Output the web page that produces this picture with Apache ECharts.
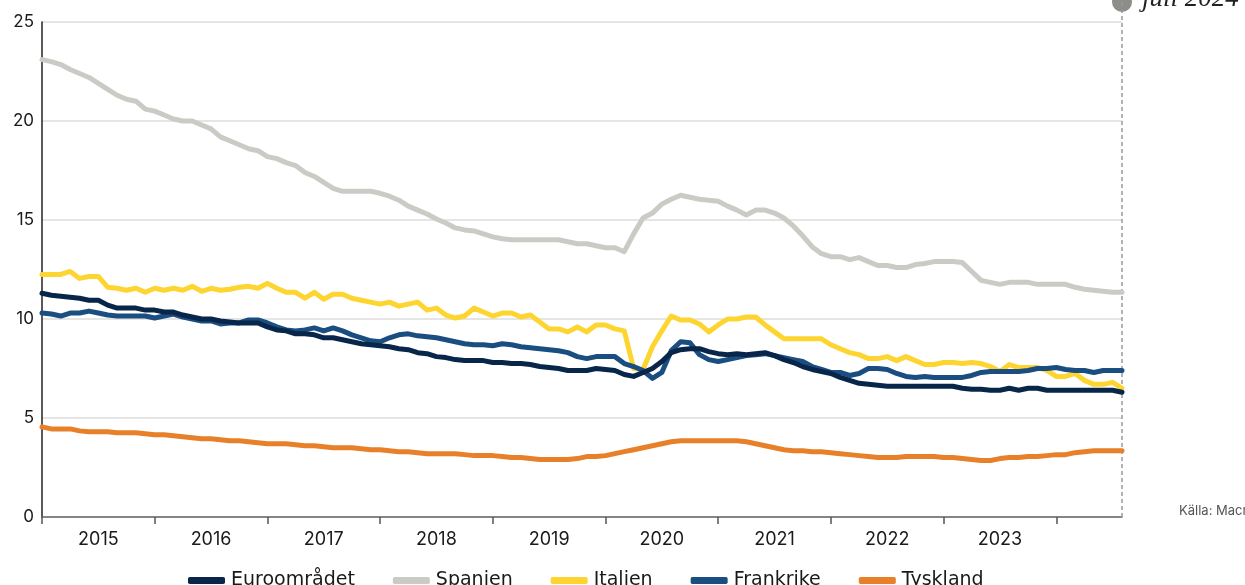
<!DOCTYPE html>
<html>
<head>
<meta charset="utf-8">
<script src="https://cdn.jsdelivr.net/npm/echarts@6/dist/echarts.min.js"></script>
<style>
  html, body { margin: 0; padding: 0; background: #fff; }
  #chart { width: 1245px; height: 585px; }
</style>
</head>
<body>
<div id="chart"></div>
<script>
// arbetslöshet, procent, månadsdata från januari 2015
var startYear = 2015;
var nMonths = 116;
var months = [];
for (var i = 0; i < nMonths; i++) {
  var y = startYear + Math.floor(i / 12);
  var m = (i % 12) + 1;
  months.push(y + '-' + (m < 10 ? '0' + m : m));
}
var lastLabelledYear = 2023;

var seriesNames = ['Euroområdet', 'Spanien', 'Italien', 'Frankrike', 'Tyskland'];

var euro = [
  11.3, 11.2, 11.15, 11.1, 11.05, 10.95, 10.95, 10.7, 10.55, 10.55, 10.55, 10.45,
  10.45, 10.35, 10.35, 10.2, 10.1, 10.0, 10.0, 9.9, 9.85, 9.8, 9.8, 9.8,
  9.6, 9.45, 9.4, 9.25, 9.25, 9.2, 9.05, 9.05, 8.95, 8.85, 8.75, 8.7,
  8.65, 8.6, 8.5, 8.45, 8.3, 8.25, 8.1, 8.05, 7.95, 7.9, 7.9, 7.9,
  7.8, 7.8, 7.75, 7.75, 7.7, 7.6, 7.55, 7.5, 7.4, 7.4, 7.4, 7.5,
  7.45, 7.4, 7.2, 7.1, 7.3, 7.5, 7.85, 8.3, 8.45, 8.5, 8.5, 8.35,
  8.25, 8.2, 8.25, 8.2, 8.25, 8.3, 8.15, 7.95, 7.8, 7.6, 7.45, 7.35,
  7.25, 7.05, 6.9, 6.75, 6.7, 6.65, 6.6, 6.6, 6.6, 6.6, 6.6, 6.6,
  6.6, 6.6, 6.5, 6.45, 6.45, 6.4, 6.4, 6.5, 6.4, 6.5, 6.5, 6.4,
  6.4, 6.4, 6.4, 6.4, 6.4, 6.4, 6.4, 6.3
];

var spanien = [
  23.1, 23.0, 22.85, 22.6, 22.4, 22.2, 21.9, 21.6, 21.3, 21.1, 21.0, 20.6,
  20.5, 20.3, 20.1, 20.0, 20.0, 19.8, 19.6, 19.2, 19.0, 18.8, 18.6, 18.5,
  18.2, 18.1, 17.9, 17.75, 17.4, 17.2, 16.9, 16.6, 16.45, 16.45, 16.45, 16.45,
  16.35, 16.2, 16.0, 15.7, 15.5, 15.3, 15.05, 14.85, 14.6, 14.5, 14.45, 14.3,
  14.15, 14.05, 14.0, 14.0, 14.0, 14.0, 14.0, 14.0, 13.9, 13.8, 13.8, 13.7,
  13.6, 13.6, 13.4, 14.3, 15.1, 15.35, 15.8, 16.05, 16.25, 16.15, 16.05, 16.0,
  15.95, 15.7, 15.5, 15.25, 15.5, 15.5, 15.35, 15.1, 14.7, 14.2, 13.65, 13.3,
  13.15, 13.15, 13.0, 13.1, 12.9, 12.7, 12.7, 12.6, 12.6, 12.75, 12.8, 12.9,
  12.9, 12.9, 12.85, 12.4, 11.95, 11.85, 11.75, 11.85, 11.85, 11.85, 11.75, 11.75,
  11.75, 11.75, 11.6, 11.5, 11.45, 11.4, 11.35, 11.35
];

var italien = [
  12.25, 12.25, 12.25, 12.4, 12.05, 12.15, 12.15, 11.6, 11.55, 11.45, 11.55, 11.35,
  11.55, 11.45, 11.55, 11.45, 11.65, 11.4, 11.55, 11.45, 11.5, 11.6, 11.65, 11.55,
  11.8, 11.55, 11.35, 11.35, 11.05, 11.35, 11.0, 11.25, 11.25, 11.05, 10.95, 10.85,
  10.75, 10.85, 10.65, 10.75, 10.85, 10.45, 10.55, 10.2, 10.05, 10.15, 10.55, 10.35,
  10.15, 10.3, 10.3, 10.1, 10.2, 9.85, 9.5, 9.5, 9.35, 9.6, 9.35, 9.7,
  9.7, 9.5, 9.4, 7.5, 7.45, 8.6, 9.4, 10.15, 9.95, 9.95, 9.75, 9.35,
  9.7, 10.0, 10.0, 10.1, 10.1, 9.7, 9.35, 9.0, 9.0, 9.0, 9.0, 9.0,
  8.7, 8.5, 8.3, 8.2, 8.0, 8.0, 8.1, 7.9, 8.1, 7.9, 7.7, 7.7,
  7.8, 7.8, 7.75, 7.8, 7.75, 7.6, 7.35, 7.7, 7.55, 7.55, 7.55, 7.4,
  7.1, 7.1, 7.25, 6.9, 6.7, 6.7, 6.8, 6.5
];

var frankrike = [
  10.3, 10.25, 10.15, 10.3, 10.3, 10.4, 10.3, 10.2, 10.15, 10.15, 10.15, 10.15,
  10.05, 10.15, 10.25, 10.1, 10.0, 9.9, 9.9, 9.75, 9.8, 9.8, 9.95, 9.95,
  9.8, 9.6, 9.45, 9.4, 9.45, 9.55, 9.4, 9.55, 9.4, 9.2, 9.05, 8.9,
  8.85, 9.05, 9.2, 9.25, 9.15, 9.1, 9.05, 8.95, 8.85, 8.75, 8.7, 8.7,
  8.65, 8.75, 8.7, 8.6, 8.55, 8.5, 8.45, 8.4, 8.3, 8.1, 8.0, 8.1,
  8.1, 8.1, 7.75, 7.6, 7.4, 7.0, 7.3, 8.4, 8.85, 8.8, 8.2, 7.95,
  7.85, 7.95, 8.05, 8.15, 8.2, 8.25, 8.15, 8.05, 7.95, 7.85, 7.6, 7.45,
  7.3, 7.3, 7.15, 7.25, 7.5, 7.5, 7.45, 7.25, 7.1, 7.05, 7.1, 7.05,
  7.05, 7.05, 7.05, 7.15, 7.3, 7.35, 7.35, 7.35, 7.35, 7.4, 7.5, 7.5,
  7.55, 7.45, 7.4, 7.4, 7.3, 7.4, 7.4, 7.4
];

var tyskland = [
  4.55, 4.45, 4.45, 4.45, 4.35, 4.3, 4.3, 4.3, 4.25, 4.25, 4.25, 4.2,
  4.15, 4.15, 4.1, 4.05, 4.0, 3.95, 3.95, 3.9, 3.85, 3.85, 3.8, 3.75,
  3.7, 3.7, 3.7, 3.65, 3.6, 3.6, 3.55, 3.5, 3.5, 3.5, 3.45, 3.4,
  3.4, 3.35, 3.3, 3.3, 3.25, 3.2, 3.2, 3.2, 3.2, 3.15, 3.1, 3.1,
  3.1, 3.05, 3.0, 3.0, 2.95, 2.9, 2.9, 2.9, 2.9, 2.95, 3.05, 3.05,
  3.1, 3.2, 3.3, 3.4, 3.5, 3.6, 3.7, 3.8, 3.85, 3.85, 3.85, 3.85,
  3.85, 3.85, 3.85, 3.8, 3.7, 3.6, 3.5, 3.4, 3.35, 3.35, 3.3, 3.3,
  3.25, 3.2, 3.15, 3.1, 3.05, 3.0, 3.0, 3.0, 3.05, 3.05, 3.05, 3.05,
  3.0, 3.0, 2.95, 2.9, 2.85, 2.85, 2.95, 3.0, 3.0, 3.05, 3.05, 3.1,
  3.15, 3.15, 3.25, 3.3, 3.35, 3.35, 3.35, 3.35
];

var yTicks = [0, 5, 10, 15, 20, 25];
var colors = ['#07264a', '#cbcbc6', '#fed530', '#1a4d80', '#e8802a'];

var font = 'Inter, "Noto Sans", sans-serif';

function lineSeries(name, data, color) {
  return {
    name: name,
    type: 'line',
    data: data,
    showSymbol: false,
    symbol: 'none',
    lineStyle: { width: 5, color: color, cap: 'round', join: 'round' },
    itemStyle: { color: color },
    emphasis: { disabled: true }
  };
}

var chart = echarts.init(document.getElementById('chart'));

var option = {
  animation: false,
  color: colors,
  grid: { left: 42, right: 123, top: 22, bottom: 68 },
  legend: {
    data: seriesNames,
    left: 183,
    top: 566,
    itemWidth: 37,
    itemHeight: 7,
    itemGap: 38,
    icon: 'roundRect',
    textStyle: { fontFamily: '"DejaVu Sans", sans-serif', fontSize: 19, color: '#1a1a1a', padding: [0, 0, 0, 1] }
  },
  xAxis: {
    type: 'category',
    data: months,
    boundaryGap: false,
    axisLine: { lineStyle: { color: '#666', width: 1.5 } },
    axisTick: {
      interval: function (i) { return i % 12 === 0; },
      length: 7,
      lineStyle: { color: '#555', width: 1.5 }
    },
    axisLabel: {
      interval: function (i, v) {
        return i % 12 === 6 && +v.slice(0, 4) <= lastLabelledYear;
      },
      formatter: function (v) { return v.slice(0, 4); },
      margin: 14,
      fontFamily: font,
      fontSize: 18,
      color: '#1a1a1a'
    },
    splitLine: { show: false }
  },
  yAxis: {
    type: 'value',
    min: yTicks[0],
    max: yTicks[yTicks.length - 1],
    interval: 5,
    axisLine: { show: true, lineStyle: { color: '#222', width: 1.5 } },
    axisTick: { show: false },
    axisLabel: { fontFamily: font, fontSize: 17, color: '#1a1a1a', margin: 8 },
    splitLine: { lineStyle: { color: '#dcdcdc', width: 1.5 } }
  },
  series: [
    lineSeries(seriesNames[4], tyskland, colors[4]),
    lineSeries(seriesNames[1], spanien, colors[1]),
    lineSeries(seriesNames[2], italien, colors[2]),
    lineSeries(seriesNames[3], frankrike, colors[3]),
    lineSeries(seriesNames[0], euro, colors[0])
  ]
};
chart.setOption(option);

// markering för senaste utfall, placerad via axelns skala
var lastX = chart.convertToPixel({ xAxisIndex: 0 }, months[months.length - 1]);
var baseY = chart.convertToPixel({ yAxisIndex: 0 }, 0);
chart.setOption({
  graphic: [
    {
      type: 'line',
      shape: { x1: lastX, y1: 2, x2: lastX, y2: baseY },
      style: { stroke: '#999', lineWidth: 1.5, lineDash: [4, 3] },
      z: 1
    },
    {
      type: 'circle',
      shape: { cx: lastX, cy: 2, r: 10 },
      style: { fill: '#8d8d89' }
    },
    {
      type: 'text',
      style: {
        x: lastX + 20,
        y: -1,
        verticalAlign: 'middle',
        text: 'juli 2024',
        font: 'italic 27px "Liberation Serif", "DejaVu Serif", serif',
        fill: '#222'
      }
    },
    {
      type: 'text',
      left: 1179,
      top: 505,
      style: {
        text: 'Källa: Macrobond',
        font: '13px ' + font,
        fill: '#555'
      }
    }
  ]
});
</script>
</body>
</html>
